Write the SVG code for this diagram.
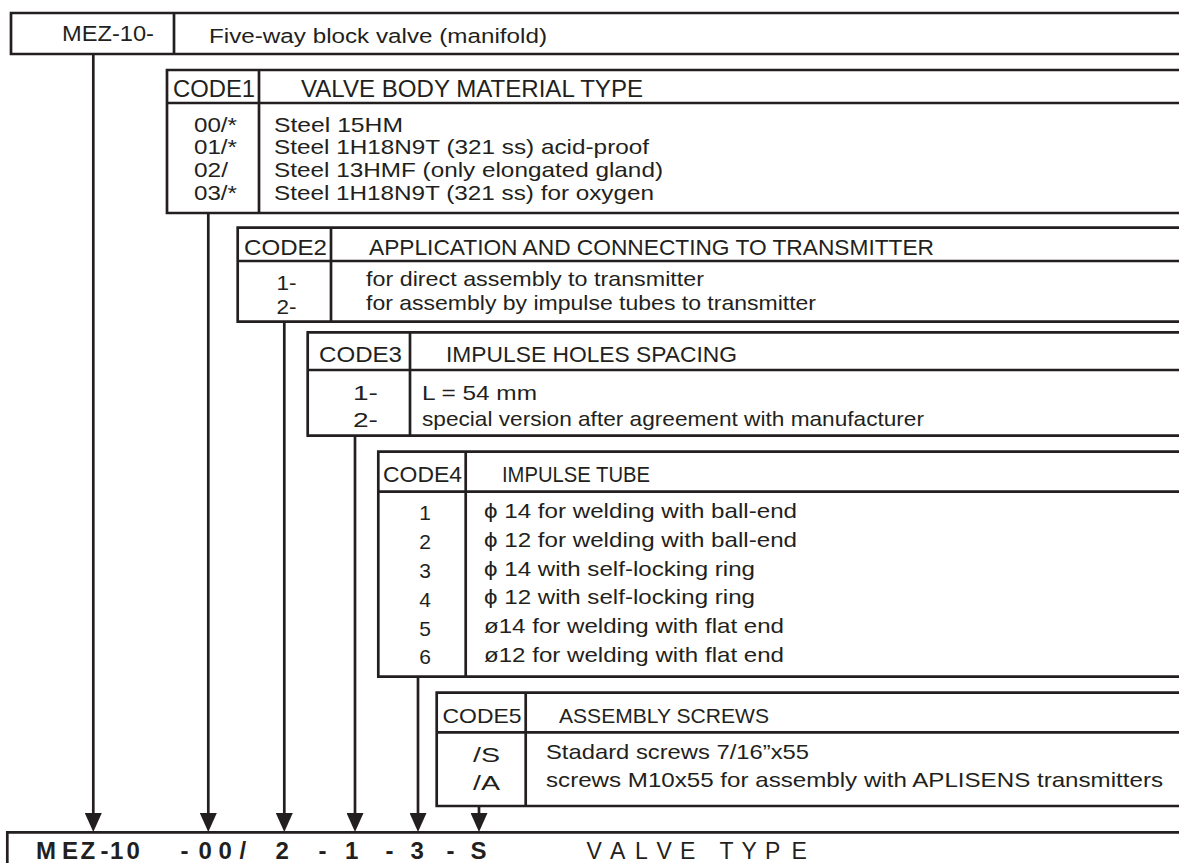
<svg xmlns="http://www.w3.org/2000/svg" width="1179" height="863" viewBox="0 0 1179 863">
<defs>
<style>
.ln{fill:none;stroke:#231f20;stroke-width:2.7}
.cn{fill:none;stroke:#231f20;stroke-width:2.7}
.t{font-family:"Liberation Sans",Arial,"DejaVu Sans",sans-serif;fill:#231f20}
.h{font-size:22.5px}
.r{font-size:21px}
.r21{font-size:21px}
.b{font-family:"Liberation Sans",Arial,sans-serif;font-weight:bold;font-size:24px;fill:#231f20}
</style>
<marker id="ah" viewBox="0 0 19 17" refX="9" refY="8.5" markerWidth="19" markerHeight="17" markerUnits="userSpaceOnUse" orient="auto">
<path d="M0,0 L19,8.5 L0,17 Z" fill="#231f20"/>
</marker>
</defs>
<rect width="1179" height="863" fill="#ffffff"/>

<g id="node-mez">
<path class="ln" d="M1179,13 H11 V54 H1179 M174,13 V54"/>
<text class="t" x="62" y="41" font-size="22" textLength="92" lengthAdjust="spacingAndGlyphs">MEZ-10-</text>
<text class="t" x="209" y="43" font-size="20.5" textLength="338" lengthAdjust="spacingAndGlyphs">Five-way block valve (manifold)</text>
</g>

<g id="node-code1">
<path class="ln" d="M1179,70 H167 V213 H1179 M167,103 H1179 M259,70 V213"/>
<text class="t" x="173" y="97" font-size="23" textLength="82" lengthAdjust="spacingAndGlyphs">CODE1</text>
<text class="t" x="301" y="97" font-size="23" textLength="342" lengthAdjust="spacingAndGlyphs">VALVE BODY MATERIAL TYPE</text>
<text class="t r" x="194" y="131.5" textLength="43" lengthAdjust="spacingAndGlyphs">00/*</text>
<text class="t r" x="194" y="154" textLength="43" lengthAdjust="spacingAndGlyphs">01/*</text>
<text class="t r" x="194" y="177" textLength="34" lengthAdjust="spacingAndGlyphs">02/</text>
<text class="t r" x="194" y="199.5" textLength="43" lengthAdjust="spacingAndGlyphs">03/*</text>
<text class="t r" x="274" y="131.5" textLength="129" lengthAdjust="spacingAndGlyphs">Steel 15HM</text>
<text class="t r" x="274" y="154" textLength="375" lengthAdjust="spacingAndGlyphs">Steel 1H18N9T (321 ss) acid-proof</text>
<text class="t r" x="274" y="177" textLength="389" lengthAdjust="spacingAndGlyphs">Steel 13HMF (only elongated gland)</text>
<text class="t r" x="274" y="199.5" textLength="380" lengthAdjust="spacingAndGlyphs">Steel 1H18N9T (321 ss) for oxygen</text>
</g>

<g id="node-code2">
<path class="ln" d="M1179,227.7 H237.7 V321.7 H1179 M237.7,261 H1179 M331,227.7 V321.7"/>
<text class="t h" x="244" y="255" textLength="83" lengthAdjust="spacingAndGlyphs">CODE2</text>
<text class="t h" x="369" y="255" textLength="565" lengthAdjust="spacingAndGlyphs">APPLICATION AND CONNECTING TO TRANSMITTER</text>
<text class="t r" x="276.5" y="289.5" textLength="20" lengthAdjust="spacingAndGlyphs">1-</text>
<text class="t r" x="276.5" y="314" textLength="20" lengthAdjust="spacingAndGlyphs">2-</text>
<text class="t r21" x="366" y="285.5" textLength="338" lengthAdjust="spacingAndGlyphs">for direct assembly to transmitter</text>
<text class="t r21" x="366" y="309.5" textLength="450" lengthAdjust="spacingAndGlyphs">for assembly by impulse tubes to transmitter</text>
</g>

<g id="node-code3">
<path class="ln" d="M1179,332.3 H307.7 V435.7 H1179 M307.7,370 H1179 M410,332.3 V435.7"/>
<text class="t h" x="319" y="361.5" textLength="83" lengthAdjust="spacingAndGlyphs">CODE3</text>
<text class="t h" x="446" y="361.5" textLength="291" lengthAdjust="spacingAndGlyphs">IMPULSE HOLES SPACING</text>
<text class="t r" x="353" y="400" textLength="25" lengthAdjust="spacingAndGlyphs">1-</text>
<text class="t r" x="353" y="426.5" textLength="25" lengthAdjust="spacingAndGlyphs">2-</text>
<text class="t r" x="422" y="400" textLength="115" lengthAdjust="spacingAndGlyphs">L = 54 mm</text>
<text class="t r" x="422" y="426" textLength="502" lengthAdjust="spacingAndGlyphs">special version after agreement with manufacturer</text>
</g>

<g id="node-code4">
<path class="ln" d="M1179,451.7 H378.3 V676.7 H1179 M378.3,491.7 H1179 M465.7,451.7 V676.7"/>
<text class="t" x="383" y="481.5" font-size="22" textLength="79" lengthAdjust="spacingAndGlyphs">CODE4</text>
<text class="t" x="502" y="481.5" font-size="22" textLength="148" lengthAdjust="spacingAndGlyphs">IMPULSE TUBE</text>
<g class="t r21" text-anchor="middle">
<text x="425" y="520">1</text>
<text x="425" y="549">2</text>
<text x="425" y="577.5">3</text>
<text x="425" y="606.5">4</text>
<text x="425" y="635.5">5</text>
<text x="425" y="664">6</text>
</g>
<text class="t r21" x="484" y="518" textLength="313" lengthAdjust="spacingAndGlyphs">ϕ 14 for welding with ball-end</text>
<text class="t r21" x="484" y="547" textLength="313" lengthAdjust="spacingAndGlyphs">ϕ 12 for welding with ball-end</text>
<text class="t r21" x="484" y="575.5" textLength="271" lengthAdjust="spacingAndGlyphs">ϕ 14 with self-locking ring</text>
<text class="t r21" x="484" y="604" textLength="271" lengthAdjust="spacingAndGlyphs">ϕ 12 with self-locking ring</text>
<text class="t r21" x="484" y="633" textLength="300" lengthAdjust="spacingAndGlyphs">ø14 for welding with flat end</text>
<text class="t r21" x="484" y="661.5" textLength="300" lengthAdjust="spacingAndGlyphs">ø12 for welding with flat end</text>
</g>

<g id="node-code5">
<path class="ln" d="M1179,692.7 H436.7 V806 H1179 M436.7,732.3 H1179 M525.7,692.7 V806"/>
<text class="t r21" x="442.5" y="723" textLength="79" lengthAdjust="spacingAndGlyphs">CODE5</text>
<text class="t r21" x="559" y="723" textLength="210" lengthAdjust="spacingAndGlyphs">ASSEMBLY SCREWS</text>
<text class="t r21" x="473" y="761.5" textLength="27" lengthAdjust="spacingAndGlyphs">/S</text>
<text class="t r21" x="473" y="790" textLength="27" lengthAdjust="spacingAndGlyphs">/A</text>
<text class="t r21" x="546" y="758.5" textLength="263" lengthAdjust="spacingAndGlyphs">Stadard screws 7/16”x55</text>
<text class="t r21" x="546" y="787" textLength="617" lengthAdjust="spacingAndGlyphs">screws M10x55 for assembly with APLISENS transmitters</text>
</g>

<g id="node-valve-type">
<path class="ln" d="M1179,832.3 H7.3 V863"/>
<text class="b" x="36 62 80.5 100.5 110 126.5 180.5 198.5 218.5 239.5 255 275.5 318.5 345 385.5 410.5 446.5 470.5" y="859">MEZ-10-00/ 2-1-3-S</text>
<text class="t" font-size="23" x="586.5 610 635 656.5 680 700 719.5 741.5 765 791.5" y="859">VALVE TYPE</text>
</g>

<g id="connectors">
<line class="cn" x1="93.3" y1="54" x2="93.3" y2="822" marker-end="url(#ah)"/>
<line class="cn" x1="208.3" y1="213" x2="208.3" y2="822" marker-end="url(#ah)"/>
<line class="cn" x1="284.3" y1="321.7" x2="284.3" y2="822" marker-end="url(#ah)"/>
<line class="cn" x1="355" y1="435.7" x2="355" y2="822" marker-end="url(#ah)"/>
<line class="cn" x1="418" y1="676.7" x2="418" y2="822" marker-end="url(#ah)"/>
<line class="cn" x1="479" y1="806" x2="479" y2="822" marker-end="url(#ah)"/>
</g>
</svg>
